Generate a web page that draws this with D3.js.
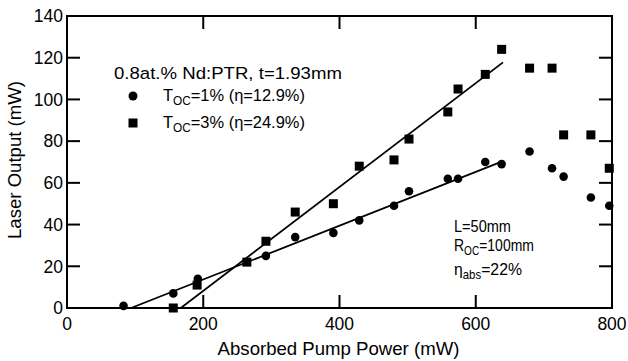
<!DOCTYPE html>
<html>
<head>
<meta charset="utf-8">
<script src="https://cdn.jsdelivr.net/npm/d3@7"></script>
<style>
  body { margin: 0; background: #fff; }
  svg { display: block; }
</style>
</head>
<body>
<div id="chart"></div>
<script>
// T_OC = 1% (circles)
const pump1 = [83, 156, 192, 292, 335, 391, 429, 480, 502, 559, 574, 614, 638, 679, 712, 729, 769, 796];
const out1  = [1, 7, 14, 25, 34, 36, 42, 49, 56, 62, 62, 70, 69, 75, 67, 63, 53, 49];
// T_OC = 3% (squares)
const pump3 = [156, 191, 264, 292, 335, 391, 429, 480, 502, 559, 574, 614, 638, 679, 712, 729, 769, 796];
const out3  = [0, 11, 22, 32, 46, 50, 68, 71, 81, 94, 105, 112, 124, 115, 115, 83, 83, 67];
// linear fits: slope (efficiency), threshold and last fitted pump power
const fitSlope = [0.129, 0.249];
const fitThreshold = [94, 167];
const fitEnd = [640, 640];

const xTicks = [0, 200, 400, 600, 800];
const yTicks = [0, 20, 40, 60, 80, 100, 120, 140];

const W = 628, H = 361;
const margin = {top: 16, right: 16, bottom: 53, left: 67};

const svg = d3.select("#chart").append("svg")
  .attr("width", W).attr("height", H);

const x = d3.scaleLinear().domain([0, 800]).range([margin.left, W - margin.right]);
const y = d3.scaleLinear().domain([0, 140]).range([H - margin.bottom, margin.top]);

const tickLen = 13;
const axisFont = "'Liberation Sans', Arial, sans-serif";
const noteFont = "'Liberation Sans', Arial, sans-serif";

// inner ticks on all four sides
const inner = xTicks.filter(d => d > 0 && d < 800);
const innerY = yTicks.filter(d => d > 0 && d < 140);
const tg = svg.append("g").attr("stroke", "#000").attr("stroke-width", 2);
inner.forEach(d => {
  tg.append("line").attr("x1", x(d)).attr("x2", x(d)).attr("y1", y(0)).attr("y2", y(0) - tickLen);
  tg.append("line").attr("x1", x(d)).attr("x2", x(d)).attr("y1", y(140)).attr("y2", y(140) + tickLen);
});
innerY.forEach(d => {
  tg.append("line").attr("x1", x(0)).attr("x2", x(0) + tickLen).attr("y1", y(d)).attr("y2", y(d));
  tg.append("line").attr("x1", x(800)).attr("x2", x(800) - tickLen).attr("y1", y(d)).attr("y2", y(d));
});

// frame
svg.append("rect")
  .attr("x", x(0)).attr("y", y(140))
  .attr("width", x(800) - x(0)).attr("height", y(0) - y(140))
  .attr("fill", "none").attr("stroke", "#000").attr("stroke-width", 2);

// tick labels
svg.append("g").selectAll("text").data(xTicks).join("text")
  .attr("x", d => x(d)).attr("y", y(0) + 22)
  .attr("text-anchor", "middle")
  .attr("font-family", axisFont).attr("font-size", 17.5)
  .text(d => d);
svg.append("g").selectAll("text").data(yTicks).join("text")
  .attr("x", x(0) - 4).attr("y", d => y(d)).attr("dy", "0.36em")
  .attr("text-anchor", "end")
  .attr("font-family", axisFont).attr("font-size", 17.5)
  .text(d => d);

// axis titles
svg.append("text")
  .attr("x", (x(0) + x(800)) / 2 - 1).attr("y", H - 6)
  .attr("text-anchor", "middle")
  .attr("font-family", axisFont).attr("font-size", 18.6)
  .text("Absorbed Pump Power (mW)");
svg.append("text")
  .attr("transform", `translate(${21},${160}) rotate(-90)`)
  .attr("text-anchor", "middle")
  .attr("font-family", axisFont).attr("font-size", 18.6)
  .text("Laser Output (mW)");

// fit lines
const fits = fitSlope.map((s, i) => [[fitThreshold[i], 0], [fitEnd[i], s * (fitEnd[i] - fitThreshold[i])]]);
const line = d3.line().x(d => x(d[0])).y(d => y(d[1]));
svg.append("g").selectAll("path").data(fits).join("path")
  .attr("d", line).attr("fill", "none").attr("stroke", "#000").attr("stroke-width", 1.8);

// markers
svg.append("g").selectAll("circle").data(pump1).join("circle")
  .attr("cx", d => x(d)).attr("cy", (d, i) => y(out1[i])).attr("r", 4.3)
  .attr("fill", "#000");
const sq = 9;
svg.append("g").selectAll("rect").data(pump3).join("rect")
  .attr("x", d => x(d) - sq / 2).attr("y", (d, i) => y(out3[i]) - sq / 2)
  .attr("width", sq).attr("height", sq)
  .attr("fill", "#000");

// helper: squeeze text to a target width (narrow gothic look)
function fitWidth(sel, x0, yb, width) {
  const w = sel.node().getComputedTextLength();
  sel.attr("transform", `translate(${x0},${yb}) scale(${width / w},1)`);
}
function noteText(x0, yb, width, parts, size) {
  const fs = size || 16.5;
  const t = svg.append("text").attr("font-family", noteFont).attr("font-size", fs);
  parts.forEach(p => {
    const ts = t.append("tspan").text(p.t);
    if (p.sub) ts.attr("font-size", fs * 0.72).attr("dy", 4);
    if (p.back) ts.attr("dy", -4);
  });
  fitWidth(t, x0, yb, width);
  return t;
}

// legend
noteText(114, 79, 228, [{t: "0.8at.% Nd:PTR,  t=1.93mm"}]);
svg.append("circle").attr("cx", 133).attr("cy", 96).attr("r", 4.5).attr("fill", "#000");
svg.append("rect").attr("x", 128.5).attr("y", 118.5).attr("width", 9).attr("height", 9).attr("fill", "#000");
noteText(163, 101, 142, [{t: "T"}, {t: "OC", sub: true}, {t: "=1%  (η=12.9%)", back: true}]);
noteText(163, 128, 142, [{t: "T"}, {t: "OC", sub: true}, {t: "=3%  (η=24.9%)", back: true}]);

// cavity annotation
noteText(454, 232, 57, [{t: "L=50mm"}]);
noteText(454, 251, 80, [{t: "R"}, {t: "OC", sub: true}, {t: "=100mm", back: true}]);
noteText(454, 275, 68, [{t: "η"}, {t: "abs", sub: true}, {t: "=22%", back: true}]);
</script>
</body>
</html>
